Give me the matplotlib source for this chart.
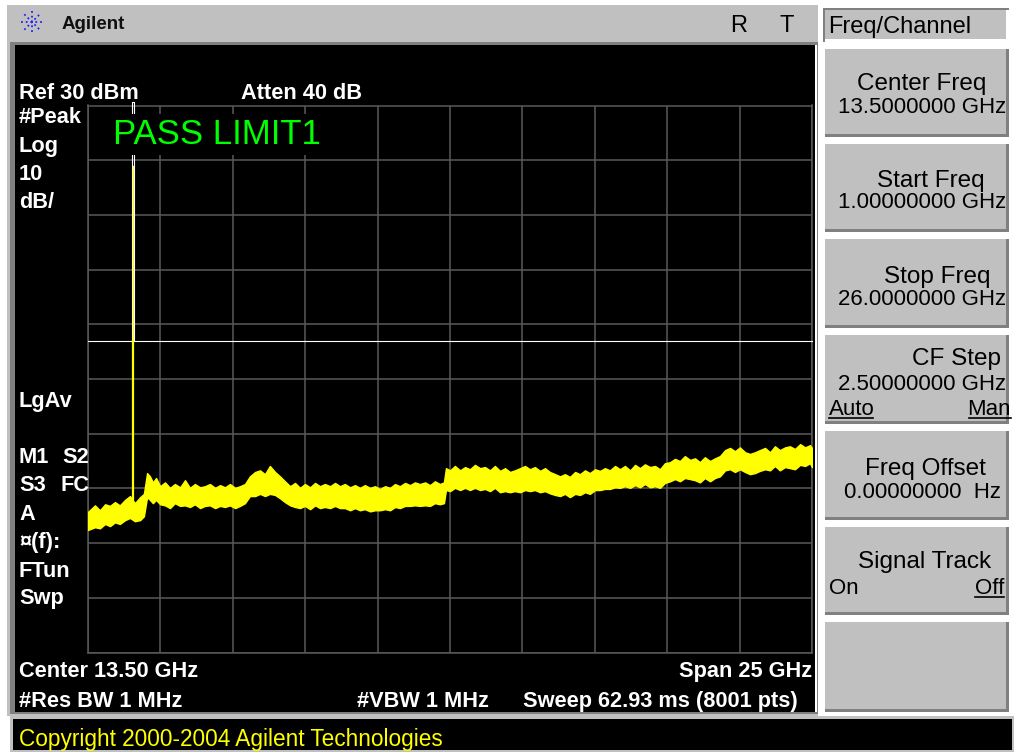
import matplotlib.pyplot as plt
from matplotlib.patches import Rectangle
from matplotlib.lines import Line2D

plt.rcParams['font.family'] = ['Liberation Sans', 'DejaVu Sans']

# trace band: frequency (GHz), upper and lower edge (dBm)
freq = [1.00, 1.24, 1.41, 1.59, 1.76, 1.93, 2.10, 2.28, 2.45, 2.62, 2.80, 2.93,
        3.04, 3.14, 3.24, 3.35, 3.49, 3.66, 3.83, 4.00, 4.18, 4.35, 4.52, 4.69,
        4.87, 5.04, 5.21, 5.39, 5.56, 5.73, 5.90, 6.08, 6.25, 6.42, 6.59, 6.77,
        6.94, 7.11, 7.28, 7.46, 7.63, 7.80, 7.98, 8.15, 8.32, 8.49, 8.67, 8.84,
        9.01, 9.18, 9.36, 9.53, 9.70, 9.87, 10.05, 10.22, 10.39, 10.56, 10.74, 10.91,
        11.08, 11.26, 11.43, 11.60, 11.77, 11.95, 12.12, 12.29, 12.46, 12.64, 12.81, 12.98,
        13.15, 13.29, 13.36, 13.50, 13.67, 13.85, 14.02, 14.19, 14.36, 14.54, 14.71, 14.88,
        15.05, 15.23, 15.40, 15.57, 15.74, 15.92, 16.09, 16.26, 16.43, 16.61, 16.78, 16.95,
        17.13, 17.30, 17.47, 17.64, 17.82, 17.99, 18.16, 18.33, 18.51, 18.68, 18.85, 19.02,
        19.20, 19.37, 19.54, 19.72, 19.89, 20.06, 20.23, 20.41, 20.58, 20.75, 20.92, 21.10,
        21.27, 21.44, 21.61, 21.79, 21.96, 22.13, 22.30, 22.48, 22.65, 22.82, 23.00, 23.17,
        23.34, 23.51, 23.69, 23.86, 24.03, 24.20, 24.38, 24.55, 24.72, 24.89, 25.07, 25.24,
        25.41, 25.59, 25.76, 25.93, 26.00]
top = [-44.3, -43.1, -44.0, -42.9, -43.2, -42.5, -43.1, -42.1, -41.4, -42.7, -41.6, -41.0,
       -37.2, -37.8, -38.9, -38.1, -39.6, -38.9, -39.9, -39.2, -39.8, -38.5, -39.9, -39.2,
       -39.8, -39.6, -39.2, -39.9, -39.4, -39.8, -39.2, -39.9, -39.6, -39.2, -37.8, -37.0,
       -36.7, -37.4, -35.9, -37.0, -37.8, -38.7, -39.6, -39.0, -39.9, -39.2, -39.8, -39.0,
       -39.6, -39.2, -39.6, -39.0, -39.6, -39.2, -39.8, -39.4, -39.9, -39.4, -39.9, -39.6,
       -40.1, -39.6, -39.9, -39.2, -39.6, -39.0, -39.4, -38.9, -39.2, -38.9, -39.4, -38.7,
       -39.2, -38.9, -36.3, -36.7, -35.9, -36.7, -36.1, -36.5, -35.7, -36.3, -36.1, -36.7,
       -35.9, -36.8, -36.3, -37.0, -36.7, -36.3, -35.9, -36.5, -36.1, -36.8, -36.3, -37.0,
       -37.4, -37.8, -37.4, -37.9, -37.0, -37.4, -36.7, -37.2, -36.5, -36.8, -36.3, -36.7,
       -35.9, -36.5, -35.9, -36.7, -35.7, -36.3, -35.6, -36.1, -35.9, -36.5, -35.4, -35.2,
       -34.6, -35.0, -34.1, -34.8, -34.5, -35.2, -34.3, -35.0, -34.5, -34.1, -33.0, -32.6,
       -33.2, -32.5, -33.4, -33.7, -33.4, -33.0, -32.6, -33.4, -32.3, -33.0, -32.5, -32.3,
       -32.8, -31.9, -32.5, -32.1, -32.6]
bot = [-47.6, -47.1, -47.3, -46.5, -46.9, -46.2, -46.5, -45.8, -45.4, -46.0, -45.8, -45.1,
       -41.6, -42.1, -42.7, -42.1, -42.9, -43.1, -43.6, -42.7, -43.2, -43.1, -43.4, -42.9,
       -43.6, -43.2, -43.1, -43.6, -43.2, -43.4, -43.1, -43.6, -43.2, -42.7, -41.4, -41.4,
       -41.0, -41.4, -41.0, -41.2, -41.8, -42.5, -43.1, -43.4, -43.6, -43.2, -43.8, -43.1,
       -43.6, -43.4, -43.6, -43.2, -43.6, -43.6, -44.0, -43.6, -44.0, -43.8, -44.2, -44.0,
       -44.0, -43.8, -44.0, -43.4, -43.6, -43.2, -43.2, -43.1, -43.2, -43.1, -43.2, -42.7,
       -42.9, -42.7, -40.3, -40.5, -39.9, -40.3, -39.9, -40.3, -39.9, -40.3, -40.1, -40.5,
       -39.9, -40.7, -40.5, -40.7, -40.5, -40.7, -40.3, -40.5, -40.3, -40.7, -40.5, -40.9,
       -41.2, -41.4, -41.0, -41.6, -41.0, -41.2, -40.7, -41.0, -40.3, -40.3, -40.1, -40.1,
       -39.8, -39.9, -39.6, -39.9, -39.4, -39.8, -39.2, -39.8, -39.6, -39.9, -39.0, -38.7,
       -38.3, -38.7, -38.1, -38.3, -38.5, -38.9, -38.1, -38.7, -38.1, -37.8, -36.7, -36.5,
       -37.0, -36.5, -37.0, -37.4, -37.2, -36.8, -36.5, -36.7, -35.9, -36.7, -36.1, -36.3,
       -36.5, -35.7, -35.9, -35.4, -36.1]

carrier_f = 2.55
carrier_db = [-42.0, -13.0, 19.0]
limit_f = [1.0, 2.51, 2.51, 2.60, 2.60, 26.0]
limit_db = [-13, -13, 30.6, 30.6, -13, -13]

ref_level = 30
db_div = 10
center = 13.5
span = 25

left_labels = [('#Peak', 123), ('Log', 152), ('10', 180), ('dB/', 208), ('LgAv', 407),
               ('M1', 463), ('S3', 491), ('A', 520), ('\u00a4(f):', 548), ('FTun', 577), ('Swp', 604)]

W, H = 1016, 753
fig = plt.figure(figsize=(W / 100, H / 100), dpi=100)
fig.patch.set_facecolor('white')


def fx(x):
    return x / W


def fy(y):
    return 1 - y / H


def box(x0, y0, x1, y1, color):
    fig.add_artist(Rectangle((fx(x0), fy(y1)), (x1 - x0) / W, (y1 - y0) / H,
                             transform=fig.transFigure, facecolor=color,
                             edgecolor='none', zorder=-10))


def txt(x, y, s, size=15.7, color='white', weight='bold', ha='left', **kw):
    fig.text(fx(x), fy(y), s, fontsize=size, color=color, fontweight=weight,
             ha=ha, va='baseline', **kw)


def seg(x0, y0, x1, y1, color, lw=1.0, ls='-'):
    fig.add_artist(Line2D([fx(x0), fx(x1)], [fy(y0), fy(y1)], transform=fig.transFigure,
                          color=color, lw=lw, ls=ls, zorder=4))


def button(x0, y0, x1, y1, sunken=False):
    hi, lo = ('#808080', '#ffffff') if sunken else ('#ffffff', '#808080')
    box(x0, y0, x1, y1, hi)
    box(x0 + 2, y0 + 2, x1, y1, lo)
    box(x0 + 2, y0 + 2, x1 - 3, y1 - 3, '#c0c0c0')


# instrument frame
box(7, 5, 818, 716, '#c0c0c0')
box(10, 42, 818, 714, '#808080')
box(15, 45, 817, 712, '#ffffff')
box(15, 45, 815, 712, '#000000')
box(10, 716, 1014, 752, '#c0c0c0')
box(13, 719, 1012, 750, '#000000')

# logo and title bar
for dx, dy in [(1, 0), (0, 1), (0.7, 0.7), (0.7, -0.7)]:
    seg(32 - 11 * dx, 22 - 11 * dy, 32 + 11 * dx, 22 + 11 * dy, '#2020ff', lw=1.3, ls=':')
txt(62, 29, 'Agilent', size=13.5, color='#101010')
txt(730, 32, 'R', size=17, color='black', weight='normal')
txt(779, 32, 'T', size=17, color='black', weight='normal')

# soft keys
button(823, 8, 1009, 42, sunken=True)
txt(828, 33, 'Freq/Channel', size=17, color='black', weight='normal')
keys = [(47, 137), (142, 232), (237, 328), (333, 424), (429, 520), (525, 615), (620, 712)]
for y0, y1 in keys:
    button(823, y0, 1009, y1)
txt(922, 90, 'Center Freq', size=17.5, color='black', weight='normal', ha='center')
txt(1006, 113, '13.5000000 GHz', size=16, color='black', weight='normal', ha='right')
txt(931, 187, 'Start Freq', size=17.5, color='black', weight='normal', ha='center')
txt(1006, 208, '1.00000000 GHz', size=16, color='black', weight='normal', ha='right')
txt(937, 283, 'Stop Freq', size=17.5, color='black', weight='normal', ha='center')
txt(1006, 305, '26.0000000 GHz', size=16, color='black', weight='normal', ha='right')
txt(956, 365, 'CF Step', size=17.5, color='black', weight='normal', ha='center')
txt(1006, 390, '2.50000000 GHz', size=16, color='black', weight='normal', ha='right')
txt(829, 415, 'Auto', size=16, color='black', weight='normal')
txt(1011, 415, 'Man', size=16, color='black', weight='normal', ha='right')
seg(829, 418, 873, 418, 'black', lw=1.2)
seg(969, 418, 1011, 418, 'black', lw=1.2)
txt(925, 475, 'Freq Offset', size=17.5, color='black', weight='normal', ha='center')
txt(1001, 498, '0.00000000  Hz', size=16, color='black', weight='normal', ha='right')
txt(925, 568, 'Signal Track', size=17.5, color='black', weight='normal', ha='center')
txt(829, 594, 'On', size=16, color='black', weight='normal')
txt(1004, 594, 'Off', size=16, color='black', weight='normal', ha='right')
seg(975, 597, 1004, 597, 'black', lw=1.2)

# screen annotations
txt(19, 99, 'Ref 30 dBm')
txt(241, 99, 'Atten 40 dB')
for s, y in left_labels:
    txt(19, y, s)
txt(62, 463, 'S2')
txt(60, 491, 'FC')
txt(19, 677, 'Center 13.50 GHz')
txt(812, 677, 'Span 25 GHz', ha='right')
txt(19, 707, '#Res BW 1 MHz')
txt(357, 707, '#VBW 1 MHz')
txt(523, 707, 'Sweep 62.93 ms (8001 pts)')
txt(19, 746, 'Copyright 2000-2004 Agilent Technologies', size=16.3, color='#ffff00', weight='normal')

# graticule and trace
ax = fig.add_axes([fx(88), fy(652.5), 724 / W, 547 / H])
ax.set_facecolor('black')
ax.set_xlim(center - span / 2, center + span / 2)
ax.set_ylim(ref_level - 10 * db_div, ref_level)
ax.set_xticks([center - span / 2 + span * k / 10 for k in range(11)])
ax.set_yticks([ref_level - db_div * k for k in range(11)])
ax.tick_params(length=0, labelbottom=False, labelleft=False)
ax.grid(True, color='#5a5a5a', lw=1.1)
for sp in ax.spines.values():
    sp.set_color('#5a5a5a')
    sp.set_linewidth(1.1)

ax.plot(limit_f, limit_db, color='white', lw=0.8, clip_on=False, zorder=3)
ax.fill_between(freq, bot, top, facecolor='#ffff00', edgecolor='#ffff00', lw=1.0, zorder=4)
ax.plot([carrier_f, carrier_f], carrier_db[:2], color='#ffff00', lw=1.6, zorder=5)
ax.plot([carrier_f, carrier_f], carrier_db[1:], color='#ffff00', lw=0.9, zorder=5)

fig.text(fx(113), fy(144), 'PASS LIMIT1', fontsize=25, color='#00ff00', va='baseline',
         zorder=6, bbox=dict(facecolor='black', edgecolor='none', pad=3))

fig.savefig('out.png', dpi=100, facecolor=fig.get_facecolor())
